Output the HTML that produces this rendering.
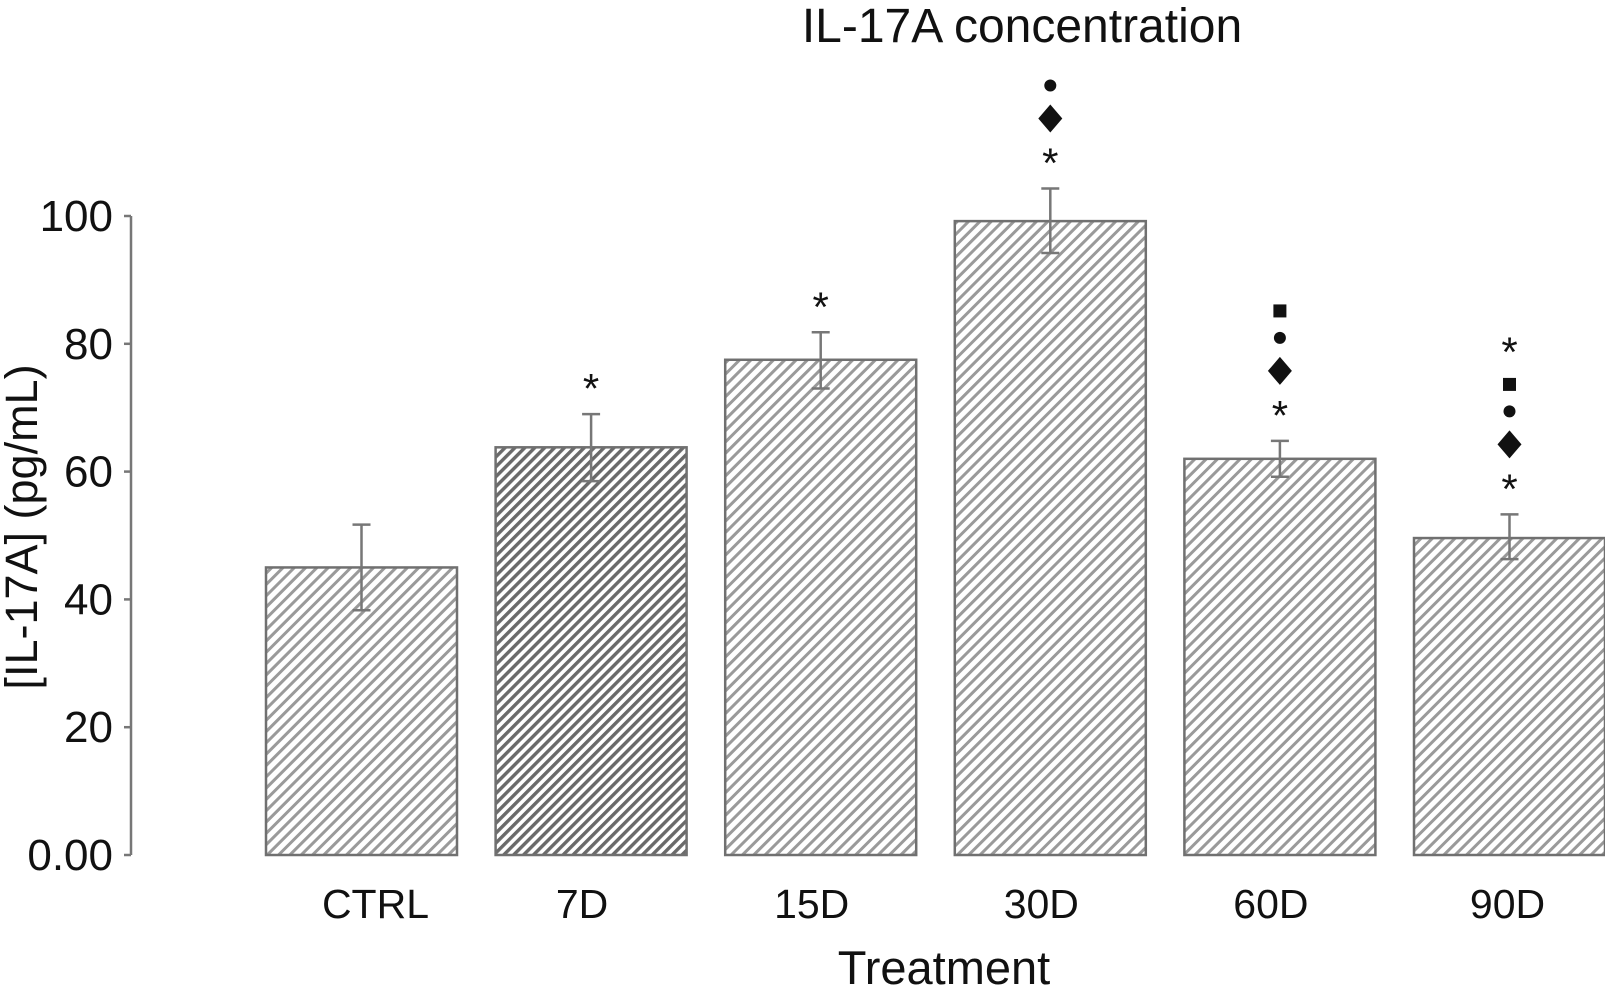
<!DOCTYPE html>
<html><head><meta charset="utf-8">
<style>
html,body{margin:0;padding:0;background:#fff;}
svg{display:block;font-family:"Liberation Sans",Arial,sans-serif;}
</style></head>
<body>
<svg id="chart" width="1605" height="995" viewBox="0 0 1605 995">
<defs>
<pattern id="hatch" patternUnits="userSpaceOnUse" width="8" height="8" patternTransform="rotate(45)">
<rect width="8" height="8" fill="#fff"/><rect x="0" y="0" width="3" height="8" fill="#9a9a9a"/>
</pattern>
<pattern id="hatchDark" patternUnits="userSpaceOnUse" width="7" height="7" patternTransform="rotate(45)">
<rect width="7" height="7" fill="#fff"/><rect x="0" y="0" width="3.4" height="7" fill="#6a6a6a"/>
</pattern>
</defs>
<text x="1022" y="42" font-size="48" text-anchor="middle" fill="#111">IL-17A concentration</text>
<text x="944" y="984" font-size="47" text-anchor="middle" fill="#111">Treatment</text>
<text transform="translate(37,527) rotate(-90)" font-size="45" text-anchor="middle" fill="#111">[IL-17A] (pg/mL)</text>
<g id="axis"></g>
<g id="bars"></g>
</svg>
<script>
const categories = ["CTRL","7D","15D","30D","60D","90D"];
const values = [45, 63.8, 77.5, 99.2, 62, 49.6];
const errLow = [38.3, 58.5, 73, 94.2, 59.2, 46.3];
const errHigh = [51.7, 69, 81.8, 104.3, 64.8, 53.3];
const yTicks = [0, 20, 40, 60, 80, 100];
const yTickLabels = ["0.00","20","40","60","80","100"];
const annotations = [[], ["*"], ["*"], ["*","diamond","dot"], ["*","diamond","dot","square"], ["*","diamond","dot","square","*"]];

const NS = "http://www.w3.org/2000/svg";
const y0 = 855, y100 = 216;
function yScale(v){ return y0 - (v/100)*(y0-y100); }
const barLeft0 = 266, barStep = 229.6, barW = 191;
const labelShift = [14, -9, -9, -9, -9, -2];
function xLeft(i){ return barLeft0 + i*barStep; }
function xCenter(i){ return xLeft(i) + barW/2; }
function mk(tag, attrs, parent){ const e=document.createElementNS(NS,tag); for(const k in attrs) e.setAttribute(k, attrs[k]); parent.appendChild(e); return e; }

const axis = document.getElementById("axis");
const yl = mk("line",{x1:131,x2:131,y1:yScale(100),y2:yScale(0),stroke:"#777","stroke-width":2.5},axis);


yTicks.forEach((t,i)=>{
  const tk = mk("line",{x1:124,x2:131,y1:yScale(t),y2:yScale(t),stroke:"#777","stroke-width":2.5},axis);
  
  
  const tx = mk("text",{x:113,y:yScale(t)+15,"font-size":44,"text-anchor":"end",fill:"#111"},axis);
  tx.textContent = yTickLabels[i];
  
  
});

const bars = document.getElementById("bars");
const offs = [33, 70, 103, 130, 170];
categories.forEach((c,i)=>{
  const top = yScale(values[i]);
  const r = mk("rect",{x:xLeft(i),y:top,width:barW,height:y0-top,fill:i===1?"url(#hatchDark)":"url(#hatch)",stroke:"#707070","stroke-width":2.5},bars);
  
  
  const cx = xCenter(i), eh=yScale(errHigh[i]), el=yScale(errLow[i]);
  const g = mk("g",{stroke:"#777","stroke-width":2.5},bars);
  
  
  mk("line",{x1:cx,x2:cx,y1:eh,y2:el},g);
  mk("line",{x1:cx-9,x2:cx+9,y1:eh,y2:eh},g);
  mk("line",{x1:cx-9,x2:cx+9,y1:el,y2:el},g);
  const lab = mk("text",{x:cx+labelShift[i],y:918,"font-size":41,"text-anchor":"middle",fill:"#111"},bars);
  lab.textContent = c;
  
  
  annotations[i].forEach((s,k)=>{
    const yy = eh - offs[k];
    let el2;
    if(s==="*"){ el2 = mk("text",{x:cx,y:yy+22,"font-size":42,"text-anchor":"middle",fill:"#111"},bars); el2.textContent="*"; }
    else if(s==="diamond"){ el2 = mk("polygon",{points:`${cx},${yy-14} ${cx+12},${yy} ${cx},${yy+14} ${cx-12},${yy}`,fill:"#111"},bars); }
    else if(s==="dot"){ el2 = mk("circle",{cx:cx,cy:yy,r:6,fill:"#111"},bars); }
    else { el2 = mk("rect",{x:cx-6.5,y:yy-6.5,width:13,height:13,fill:"#111"},bars); }
    
    
  });
});
</script>
</body></html>
